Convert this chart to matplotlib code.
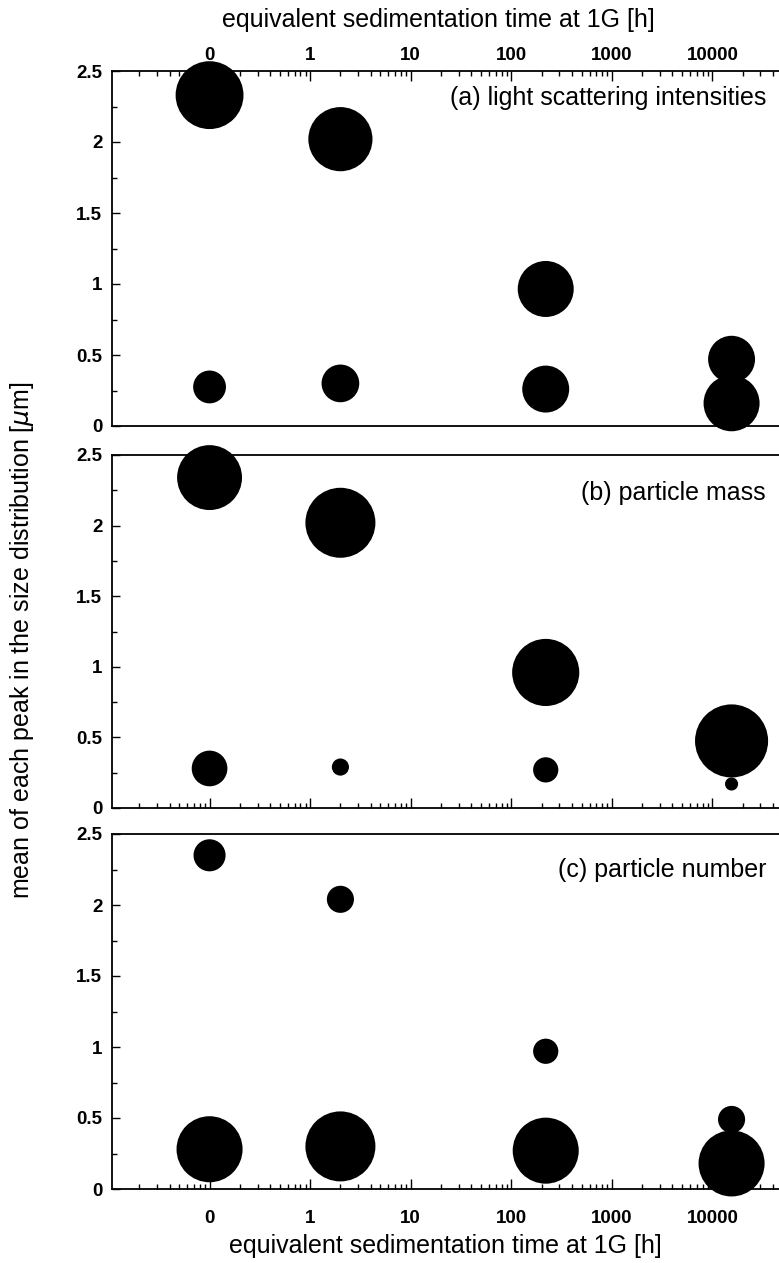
import numpy as np
import matplotlib.pyplot as plt
from matplotlib.ticker import FixedLocator, LogLocator, NullFormatter

plt.rcParams['font.family'] = ['Liberation Sans', 'DejaVu Sans']

# equivalent sedimentation time [h] of each peak (two peaks per sample)
times = [0.1, 0.1, 2.0, 2.0, 220, 220, 15500, 15500]

# mean of each peak [um]
mean_a = [2.33, 0.275, 2.02, 0.30, 0.965, 0.26, 0.47, 0.16]
mean_b = [2.34, 0.28, 2.02, 0.29, 0.96, 0.27, 0.475, 0.17]
mean_c = [2.35, 0.28, 2.04, 0.30, 0.97, 0.27, 0.49, 0.18]

# relative weight of each peak (bubble area)
weight_a = [0.94, 0.22, 0.84, 0.29, 0.64, 0.45, 0.45, 0.64]
weight_b = [0.86, 0.26, 1.00, 0.06, 0.92, 0.13, 1.09, 0.035]
weight_c = [0.21, 0.89, 0.15, 1.00, 0.13, 0.89, 0.15, 0.89]

labels = ['(a) light scattering intensities', '(b) particle mass', '(c) particle number']
label_y = [0.925, 0.892, 0.899]

tick_pos = [0.1, 1, 10, 100, 1000, 10000]
tick_lab = ['0', '1', '10', '100', '1000', '10000']
ytick_pos = [0, 0.5, 1, 1.5, 2, 2.5]
ytick_lab = ['0', '0.5', '1', '1.5', '2', '2.5']

W, H = 779, 1263
fig = plt.figure(figsize=(W / 100, H / 100), dpi=100)

left = 112 / W
width = 701 / W
tops = [71, 455, 834]
bots = [426, 808, 1189]
s_max = (70 * 0.72) ** 2
big = 18
tick_fs = 13.5

axes = []
for i, (mean, weight) in enumerate([(mean_a, weight_a), (mean_b, weight_b), (mean_c, weight_c)]):
    ax = fig.add_axes([left, 1 - bots[i] / H, width, (bots[i] - tops[i]) / H])
    ax.scatter(times, mean, s=np.array(weight) * s_max, c='black',
               edgecolors='none', clip_on=False, zorder=3)
    ax.set_xscale('log')
    ax.set_xlim(10 ** -1.97, 1e5)
    ax.set_ylim(0, 2.5)
    ax.xaxis.set_major_locator(FixedLocator(tick_pos))
    ax.xaxis.set_minor_locator(LogLocator(base=10, subs=np.arange(2, 10)))
    ax.xaxis.set_minor_formatter(NullFormatter())
    ax.set_yticks(ytick_pos)
    ax.set_yticklabels(ytick_lab, fontsize=tick_fs, fontweight='bold')
    ax.set_yticks(np.arange(0.25, 2.5, 0.5), minor=True)
    ax.tick_params(axis='y', which='major', direction='in', length=6, width=1, pad=7)
    ax.tick_params(axis='y', which='minor', direction='in', length=3.5, width=1)
    for sp in ax.spines.values():
        sp.set_linewidth(1.3)
    ax.text(0.933, label_y[i], labels[i], transform=ax.transAxes,
            ha='right', va='center', fontsize=big)
    axes.append(ax)

ax_a, ax_b, ax_c = axes

# panel (a): ticks and labels on top only
ax_a.tick_params(axis='x', which='both', bottom=False, top=True, labelbottom=False,
                 labeltop=True, direction='in')
ax_a.set_xticklabels(tick_lab, fontsize=tick_fs, fontweight='bold')
ax_a.tick_params(axis='x', which='major', length=7, width=1, pad=5)
ax_a.tick_params(axis='x', which='minor', length=3.5, width=1)
ax_a.xaxis.set_label_position('top')
ax_a.set_xlabel('equivalent sedimentation time at 1G [h]', fontsize=big)
ax_a.xaxis.set_label_coords(0.465, 1 + 51 / (426 - 71))
ax_a.xaxis.label.set_va('center')

# panel (b): bottom ticks, no labels
ax_b.tick_params(axis='x', which='both', bottom=True, top=False, labelbottom=False,
                 direction='in')
ax_b.tick_params(axis='x', which='major', length=7, width=1)
ax_b.tick_params(axis='x', which='minor', length=3.5, width=1)

# panel (c): bottom ticks and labels
ax_c.tick_params(axis='x', which='both', bottom=True, top=False, labelbottom=True,
                 direction='in')
ax_c.set_xticklabels(tick_lab, fontsize=tick_fs, fontweight='bold')
ax_c.tick_params(axis='x', which='major', length=7, width=1, pad=15)
ax_c.tick_params(axis='x', which='minor', length=3.5, width=1)
ax_c.set_xlabel('equivalent sedimentation time at 1G [h]', fontsize=big)
ax_c.xaxis.set_label_coords(0.475, -57 / (1189 - 834))
ax_c.xaxis.label.set_va('center')

fig.text(22 / W, 1 - 640 / H, r'mean of each peak in the size distribution [$\mu$m]',
         rotation=90, ha='center', va='center', fontsize=big)

fig.savefig('out.png', dpi=100)
